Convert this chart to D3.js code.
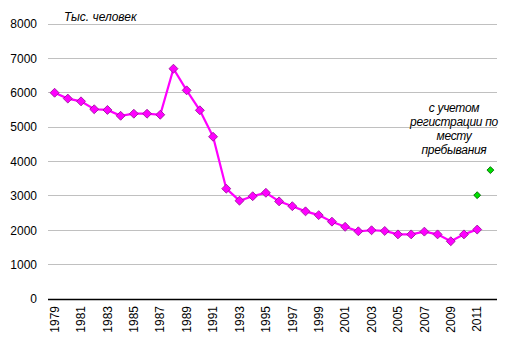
<!DOCTYPE html>
<html><head><meta charset="utf-8">
<script src="https://cdn.jsdelivr.net/npm/d3@7"></script>
<style>body{margin:0;background:#fff}svg{display:block;font-family:"Liberation Sans",Arial,sans-serif}</style>
</head><body><svg id="c" width="513" height="350"></svg>
<script>
const years = d3.range(1979, 2013).map(String);
const population = [6000,5830,5750,5520,5500,5330,5390,5390,5360,6700,6070,5490,4720,3210,2860,2990,3090,2840,2700,2550,2440,2250,2100,1970,2000,1980,1880,1880,1960,1880,1680,1880,2020];
const populationYears = years.slice(0, 33);
const withRegistration = [3020, 3750];
const withRegistrationYears = ["2011","2012"];
const yTicks = [0,1000,2000,3000,4000,5000,6000,7000,8000];
const xTickLabels = years.filter((d,i)=>i%2===0 && +d<=2011);
const unitLabel = "Тыс. человек";
const noteLines = ["с учетом","регистрации по","месту","пребывания"];

const svg = d3.select("#c");
const L=48, R=497, T=24, B=299;
const x = d3.scaleBand().domain(years).range([L,R]);
const y = d3.scaleLinear().domain([0,8000]).range([B,T]);
const cx = d => x(d)+x.bandwidth()/2;

svg.append("g").selectAll("line").data(yTicks.slice(1)).join("line")
  .attr("x1",L).attr("x2",R).attr("y1",d=>y(d)).attr("y2",d=>y(d))
  .attr("stroke","#c0c0c0").attr("stroke-width",1).attr("shape-rendering","crispEdges");

const ya = svg.append("g").attr("transform",`translate(${L},0)`)
  .call(d3.axisLeft(y).tickValues(yTicks).tickSize(0).tickPadding(11).tickFormat(d3.format("d")));
ya.select(".domain").remove();
ya.selectAll("text").attr("font-size",12).attr("fill","#000").attr("font-family","Liberation Sans, Arial, sans-serif");

const xa = svg.append("g").attr("transform",`translate(0,${B})`)
  .call(d3.axisBottom(x).tickValues(xTickLabels).tickSize(0).tickPadding(0));
xa.select(".domain").attr("d",`M${L},0.5H${R}`).attr("stroke","#000").attr("stroke-width",1.5);
xa.selectAll("text").attr("font-size",12).attr("fill","#000").attr("font-family","Liberation Sans, Arial, sans-serif")
  .attr("transform","rotate(-90)").attr("text-anchor","end").attr("x",-7).attr("y",0).attr("dy","0.35em");

svg.append("path").datum(populationYears.map((d,i)=>[d,population[i]]))
  .attr("fill","none").attr("stroke","#ff00ff").attr("stroke-width",2.2)
  .attr("d",d3.line().x(d=>cx(d[0])).y(d=>y(d[1])));

const dia = d3.symbol().type(d3.symbolDiamond);
svg.append("g").selectAll("path").data(populationYears.map((d,i)=>[d,population[i]])).join("path")
  .attr("transform",d=>`translate(${cx(d[0])},${y(d[1])}) rotate(0)`)
  .attr("d",d3.symbol().type(d3.symbolSquare).size(40)).attr("transform",d=>`translate(${cx(d[0])},${y(d[1])}) rotate(45)`)
  .attr("fill","#ff00ff").attr("stroke","#9a109a").attr("stroke-width",0.8);

svg.append("g").selectAll("path").data(withRegistrationYears.map((d,i)=>[d,withRegistration[i]])).join("path")
  .attr("d",d3.symbol().type(d3.symbolSquare).size(24)).attr("transform",d=>`translate(${cx(d[0])},${y(d[1])}) rotate(45)`)
  .attr("fill","#00e000").attr("stroke","#006000").attr("stroke-width",0.8);

svg.append("text").attr("x",64).attr("y",21).attr("font-size",12).attr("font-style","italic").text(unitLabel);

svg.append("g").selectAll("text").data(noteLines).join("text")
  .attr("x",454).attr("y",(d,i)=>112+i*14).attr("text-anchor","middle")
  .attr("font-size",12).attr("font-style","italic").attr("letter-spacing","-0.3").text(d=>d);
</script></body></html>
